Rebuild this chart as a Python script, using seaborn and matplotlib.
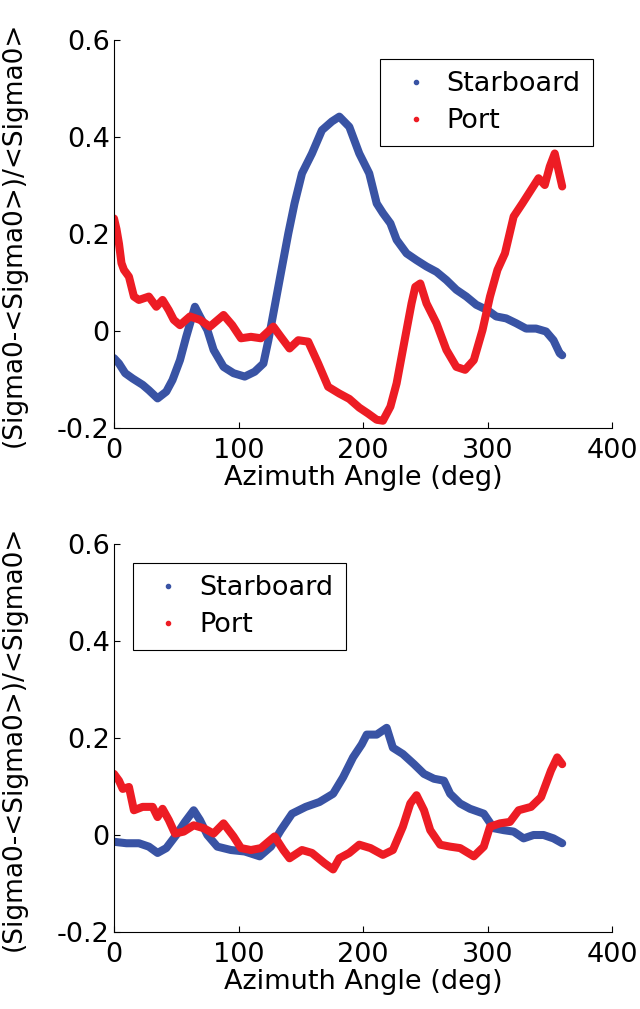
import matplotlib
matplotlib.use("Agg")
import matplotlib.pyplot as plt
from matplotlib.lines import Line2D
import seaborn as sns
import pandas as pd

# ---------------- data ----------------
top_star_az = [0, 4, 9, 15, 23, 28, 35, 42, 47, 53, 58, 65, 69, 75, 80, 88, 96, 105, 113, 120,
               124, 129, 134, 140, 145, 151, 159, 167, 175, 181, 189, 197, 205, 211, 216, 222,
               227, 235, 243, 251, 259, 267, 275, 283, 291, 300, 307, 315, 323, 331, 339, 347,
               353, 358, 360]
top_star_val = [-0.056, -0.067, -0.087, -0.098, -0.111, -0.122, -0.139, -0.125, -0.101, -0.060,
                -0.012, 0.050, 0.030, 0.002, -0.039, -0.074, -0.087, -0.094, -0.084, -0.067,
                -0.019, 0.050, 0.119, 0.201, 0.263, 0.325, 0.366, 0.414, 0.432, 0.442,
                0.421, 0.366, 0.325, 0.263, 0.243, 0.222, 0.188, 0.160, 0.146, 0.133,
                0.122, 0.105, 0.085, 0.071, 0.054, 0.043, 0.030, 0.026, 0.016, 0.005,
                0.005, -0.001, -0.019, -0.046, -0.050]

top_port_az = [0, 2, 4, 6, 8, 12, 16, 20, 28, 34, 39, 44, 48, 53, 61, 69, 77, 88, 95, 102,
               110, 118, 128, 134, 141, 148, 156, 164, 172, 181, 189, 197, 204, 211, 216, 222,
               227, 232, 236, 239, 242, 246, 251, 259, 267, 275, 282, 289, 296, 302, 308, 314,
               321, 328, 335, 341, 346, 350, 354, 357, 360]
top_port_val = [0.232, 0.210, 0.180, 0.140, 0.126, 0.112, 0.071, 0.064, 0.071, 0.050,
                0.064, 0.043, 0.023, 0.012, 0.030, 0.023, 0.009, 0.033, 0.012, -0.015,
                -0.012, -0.015, 0.009, -0.012, -0.036, -0.019, -0.022, -0.067, -0.115, -0.129,
                -0.140, -0.158, -0.170, -0.183, -0.185, -0.156, -0.108, -0.039, 0.016, 0.057,
                0.091, 0.098, 0.057, 0.016, -0.039, -0.074, -0.080, -0.060, 0.002, 0.071,
                0.126, 0.160, 0.236, 0.263, 0.291, 0.315, 0.301, 0.339, 0.366, 0.332, 0.298]

bot_star_az = [0, 10, 20, 28, 35, 42, 50, 57, 64, 69, 75, 83, 94, 105, 117, 126, 134, 143,
               154, 165, 176, 184, 192, 199, 203, 211, 219, 224, 232, 241, 249, 257, 265, 270,
               278, 286, 297, 305, 313, 321, 329, 337, 345, 353, 360]
bot_star_val = [-0.014, -0.017, -0.017, -0.024, -0.037, -0.027, 0.000, 0.027, 0.051, 0.031,
                0.000, -0.024, -0.031, -0.034, -0.044, -0.024, 0.010, 0.044, 0.058, 0.068,
                0.085, 0.119, 0.160, 0.187, 0.207, 0.207, 0.221, 0.180, 0.167, 0.146,
                0.126, 0.116, 0.112, 0.085, 0.065, 0.054, 0.044, 0.014, 0.010, 0.007,
                -0.007, 0.000, 0.000, -0.007, -0.017]

bot_port_az = [0, 4, 7, 12, 16, 23, 31, 35, 39, 44, 49, 56, 64, 72, 80, 88, 96, 102, 110, 118,
               129, 136, 141, 151, 159, 169, 176, 181, 189, 197, 206, 216, 224, 232, 238, 243,
               249, 254, 262, 270, 278, 289, 297, 302, 310, 318, 325, 335, 343, 351, 356, 360]
bot_port_val = [0.126, 0.112, 0.095, 0.099, 0.051, 0.058, 0.058, 0.037, 0.054, 0.031,
                0.003, 0.007, 0.020, 0.014, 0.003, 0.024, -0.003, -0.027, -0.031, -0.027,
                -0.003, -0.031, -0.048, -0.031, -0.037, -0.058, -0.071, -0.048, -0.037, -0.020,
                -0.027, -0.041, -0.031, 0.017, 0.065, 0.082, 0.051, 0.010, -0.020, -0.024,
                -0.027, -0.044, -0.024, 0.017, 0.024, 0.027, 0.051, 0.058, 0.078, 0.133,
                0.160, 0.146]

series_names = ["Starboard", "Port"]
x_ticks = [0, 100, 200, 300, 400]
y_ticks = [-0.2, 0, 0.2, 0.4, 0.6]
y_tick_labels = ["-0.2", "0", "0.2", "0.4", "0.6"]
x_label = "Azimuth Angle (deg)"
y_label = "(Sigma0-<Sigma0>)/<Sigma0>"

# ---------------- styling ----------------
sns.set_theme(style="white")
plt.rcParams["font.family"] = ["DejaVu Sans"]
for k in ["text.color", "axes.labelcolor", "xtick.color", "ytick.color"]:
    plt.rcParams[k] = "black"
BLUE = "#3953a4"
RED = "#ed1c24"
FS = 19.5

W, H = 640, 1009
fig = plt.figure(figsize=(W / 100, H / 100), dpi=100)
ax_top = fig.add_axes([114 / W, 1 - 428 / H, 498 / W, 388 / H])
ax_bot = fig.add_axes([114 / W, 1 - 932 / H, 498 / W, 388 / H])

panels = [
    (ax_top, top_star_az, top_star_val, top_port_az, top_port_val, "upper right"),
    (ax_bot, bot_star_az, bot_star_val, bot_port_az, bot_port_val, "upper left"),
]

for ax, sx, sy, px, py, loc in panels:
    df_s = pd.DataFrame({"az": sx, "val": sy})
    df_p = pd.DataFrame({"az": px, "val": py})
    sns.lineplot(data=df_s, x="az", y="val", ax=ax, color=BLUE, linewidth=5.8,
                 sort=False, estimator=None, legend=False, solid_capstyle="round",
                 solid_joinstyle="round")
    sns.lineplot(data=df_p, x="az", y="val", ax=ax, color=RED, linewidth=5.8,
                 sort=False, estimator=None, legend=False, solid_capstyle="round",
                 solid_joinstyle="round")
    ax.set_xlim(0, 400)
    ax.set_ylim(-0.2, 0.6)
    ax.set_xticks(x_ticks)
    ax.set_xticklabels([str(t) for t in x_ticks])
    ax.set_yticks(y_ticks)
    ax.set_yticklabels(y_tick_labels)
    ax.tick_params(axis="both", direction="in", length=4, width=0.8, colors="black",
                   labelsize=FS)
    ax.tick_params(axis="x", pad=7, bottom=True)
    ax.tick_params(axis="y", pad=3, left=True)
    for s in ["top", "right"]:
        ax.spines[s].set_visible(False)
    for s in ["left", "bottom"]:
        ax.spines[s].set_color("black")
        ax.spines[s].set_linewidth(0.8)
    ax.set_xlabel(x_label, fontsize=FS, labelpad=1, color="black")
    ax.set_ylabel(y_label, fontsize=19, labelpad=22, color="black")
    handles = [
        Line2D([], [], color=BLUE, marker="o", markersize=3, linestyle="none"),
        Line2D([], [], color=RED, marker="o", markersize=3, linestyle="none"),
    ]
    leg = ax.legend(handles, series_names, loc=loc, fontsize=FS, frameon=True,
                    fancybox=False, edgecolor="black", framealpha=1,
                    borderaxespad=0.7, borderpad=0.45, handlelength=1.7,
                    handletextpad=0.3, labelspacing=0.4)
    leg.get_frame().set_linewidth(0.8)
    for t in leg.get_texts():
        t.set_color("black")

fig.savefig("out.png", dpi=100)
